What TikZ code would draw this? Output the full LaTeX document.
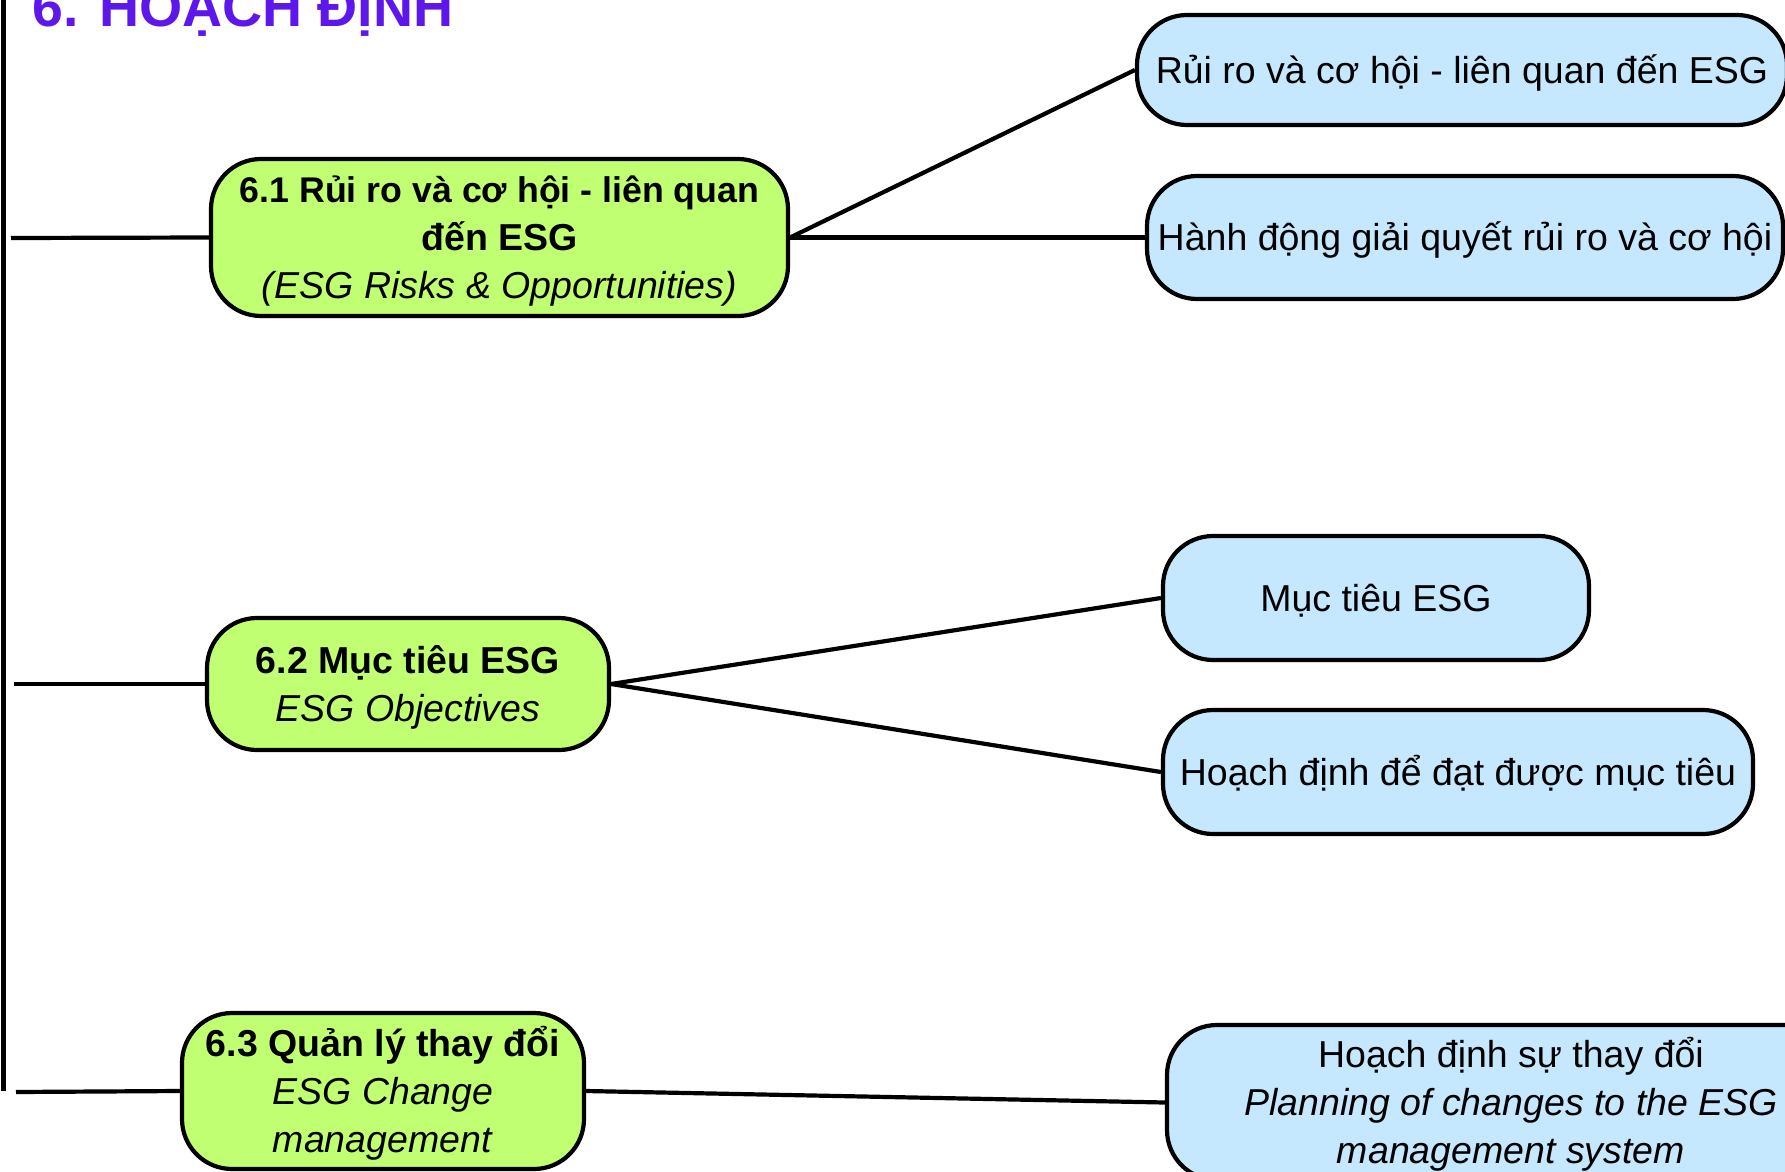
\documentclass[tikz,border=0pt]{standalone}
\usepackage{fontspec}
\setmainfont{Liberation Sans}
\definecolor{gfill}{HTML}{C1FF72}
\definecolor{bfill}{HTML}{C5E8FF}
\definecolor{titlepurple}{HTML}{5E17EB}
\newcommand\mytop{\rule{0pt}{38pt}}
\newcommand\mybot{\rule[-12pt]{0pt}{0pt}}
\tikzset{
  box/.style={draw=black, line width=4.2pt, rounded corners=50pt, align=center,
    inner sep=0pt, font=\fontsize{37.5}{48}\selectfont},
  gbox/.style={box, fill=gfill},
  bbox/.style={box, fill=bfill},
  conn/.style={line width=4.2pt},
  titlestyle/.style={inner sep=0pt, text=titlepurple, font=\fontsize{55.5}{60}\selectfont\bfseries}
}
\begin{document}
\begin{tikzpicture}[x=1pt,y=-1pt]
\useasboundingbox (0,0) rectangle (1785,1172);
% title
\node[titlestyle, anchor=base west] (title) at (32,27) {6. HOẠCH ĐỊNH};
% green boxes
\node[gbox, minimum width=577pt, minimum height=157pt] (g1) at (499.5,237.5)
  {\mytop{\fontsize{35.7}{48}\selectfont\textbf{6.1 Rủi ro và cơ hội - liên quan}}\\\textbf{đến ESG}\\\textit{(ESG Risks \& Opportunities)}\mybot};
\node[gbox, minimum width=402pt, minimum height=132pt] (g2) at (408,684)
  {\mytop\textbf{6.2 Mục tiêu ESG}\\\textit{ESG Objectives}\mybot};
\node[gbox, minimum width=402pt, minimum height=156pt] (g3) at (383,1091)
  {\mytop\textbf{6.3 Quản lý thay đổi}\\\textit{ESG Change}\\\textit{management}\mybot};
% blue boxes
\node[bbox, minimum width=650pt, minimum height=110pt] (b1) at (1462,70)
  {\mytop Rủi ro và cơ hội - liên quan đến ESG\mybot};
\node[bbox, minimum width=636pt, minimum height=123pt] (b2) at (1465,237.5)
  {\mytop Hành động giải quyết rủi ro và cơ hội\mybot};
\node[bbox, minimum width=426pt, minimum height=124pt] (b3) at (1376,598)
  {\mytop Mục tiêu ESG\mybot};
\node[bbox, minimum width=590pt, minimum height=124pt] (b4) at (1458,772)
  {\mytop Hoạch định để đạt được mục tiêu\mybot};
\node[bbox, minimum width=688pt, minimum height=155pt] (b5) at (1511,1102.5)
  {\mytop Hoạch định sự thay đổi\\\textit{Planning of changes to the ESG}\\\textit{management system}\mybot};
% left spine and stubs
\coordinate (v1) at (3.5,-10);
\coordinate (v2) at (3.5,1091);
\draw[conn] (v1) -- (v2);
\coordinate (h1) at (11,238);
\coordinate (h2) at (14,684);
\coordinate (h3) at (16,1092);
\draw[conn] (h1) -- (g1.west);
\draw[conn] (h2) -- (g2.west);
\draw[conn] (h3) -- (g3.west);
% connectors
\draw[conn] (g1.east) -- (b1.west);
\draw[conn] (g1.east) -- (b2.west);
\draw[conn] (g2.east) -- (b3.west);
\draw[conn] (g2.east) -- (b4.west);
\draw[conn] (g3.east) -- (b5.west);
\end{tikzpicture}
\end{document}
